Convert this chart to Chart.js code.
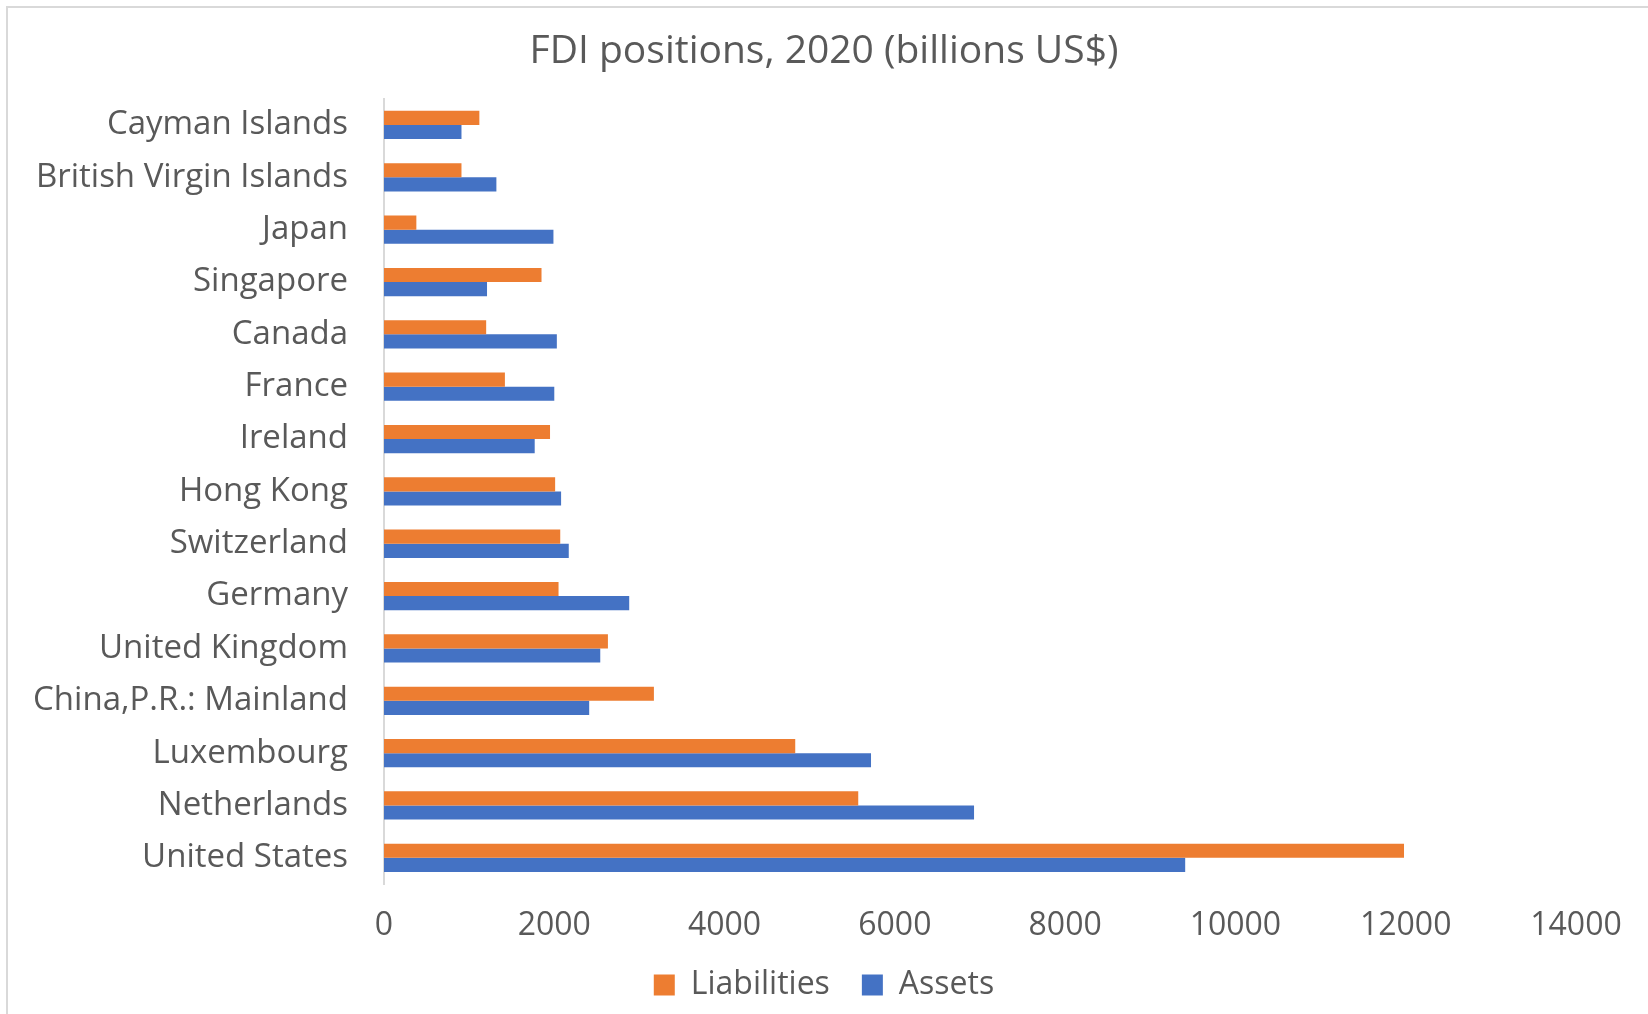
<!DOCTYPE html>
<html>
<head>
<meta charset="utf-8">
<script src="https://cdn.jsdelivr.net/npm/chart.js@4/dist/chart.umd.min.js"></script>
<style>
    html, body { margin: 0; padding: 0; background: #ffffff; overflow: hidden; }
    #caixa { position: absolute; left: 6px; top: 6px; width: 1700px; height: 1100px; border: 2px solid #d9d9d9; }
    #area { position: absolute; left: 0; top: 0; width: 1648px; height: 1014px; }
</style>
</head>
<body>
<div id="caixa"></div>
<div id="area"><canvas id="barra" width="1648" height="1014"></canvas></div>
<script>
// FDI positions, 2020 (billions US$)

var paises = ['Cayman Islands', 'British Virgin Islands', 'Japan', 'Singapore', 'Canada', 'France',
    'Ireland', 'Hong Kong', 'Switzerland', 'Germany', 'United Kingdom', 'China,P.R.: Mainland',
    'Luxembourg', 'Netherlands', 'United States'];

var passivos = [1120, 910, 380, 1850, 1200, 1420, 1950, 2010, 2070, 2050, 2630, 3170, 4830, 5570, 11980];
var ativos = [910, 1320, 1990, 1210, 2030, 2000, 1770, 2080, 2170, 2880, 2540, 2410, 5720, 6930, 9410];

var ticksX = [0, 2000, 4000, 6000, 8000, 10000, 12000, 14000];

var corTexto = '#595959';
var fonte = "'Open Sans', 'Noto Sans', sans-serif";

var ctx = document.getElementById('barra').getContext('2d');

var grafico = new Chart(ctx, {
    type: 'bar',
    data: {
        labels: paises,
        datasets: [{
            label: 'Liabilities',
            data: passivos,
            backgroundColor: '#ED7D31',
            borderWidth: 0,
            barPercentage: 1,
            categoryPercentage: 0.54
        }, {
            label: 'Assets',
            data: ativos,
            backgroundColor: '#4472C4',
            borderWidth: 0,
            barPercentage: 1,
            categoryPercentage: 0.54
        }]
    },
    options: {
        indexAxis: 'y',
        responsive: false,
        animation: false,
        layout: {
            padding: { left: 0, right: 0, top: 0, bottom: 3 }
        },
        scales: {
            x: {
                min: 0,
                max: 14000,
                afterBuildTicks: function (escala) {
                    escala.ticks = ticksX.map(v => ({ value: v }));
                },
                afterFit: function (escala) {
                    escala.height = 53;
                    escala.paddingRight = 72;
                },
                grid: { display: false },
                border: { display: false },
                ticks: {
                    color: corTexto,
                    padding: 15,
                    maxRotation: 0,
                    callback: function (v) { return String(v); },
                    font: { family: fonte, size: 32 }
                }
            },
            y: {
                afterFit: function (escala) {
                    escala.width = 384;
                },
                grid: { display: false },
                border: { display: true, color: '#d9d9d9', width: 2 },
                ticks: {
                    color: corTexto,
                    padding: 28,
                    autoSkip: false,
                    font: { family: fonte, size: 33 }
                }
            }
        },
        plugins: {
            title: {
                display: true,
                text: 'FDI positions, 2020 (billions US$)',
                color: corTexto,
                padding: { top: 28, bottom: 24 },
                font: { family: fonte, size: 39, weight: 'normal' }
            },
            legend: {
                position: 'bottom',
                labels: {
                    color: corTexto,
                    boxWidth: 21,
                    boxHeight: 21,
                    padding: 32,
                    font: { family: fonte, size: 32 }
                }
            },
            tooltip: { enabled: false }
        }
    }
});
</script>
</body>
</html>
